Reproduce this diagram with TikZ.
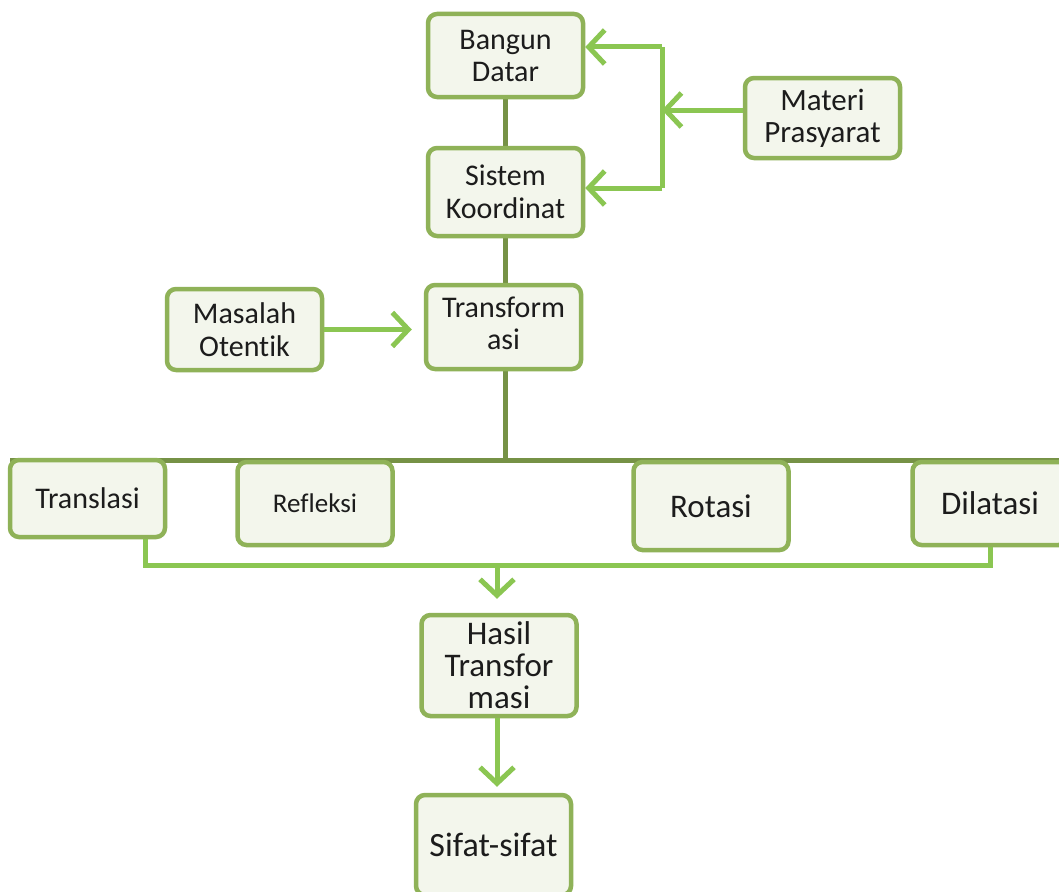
\documentclass[tikz,border=0pt]{standalone}
\usepackage{fontspec}
\setmainfont{Carlito}[Ligatures=NoCommon]
\usetikzlibrary{arrows.meta,calc}
\definecolor{boxc}{RGB}{143,178,88}
\definecolor{boxf}{RGB}{243,246,236}
\definecolor{arrc}{RGB}{139,198,82}
\definecolor{darkc}{RGB}{118,146,70}
\definecolor{txtc}{RGB}{28,28,28}
\tikzset{
  cbox/.style={draw=boxc, fill=boxf, line width=4.5pt, rounded corners=9pt,
    minimum width=155pt, align=center, text=txtc, inner sep=1pt},
  arr/.style={draw=arrc, line width=5pt, -{Straight Barb[length=16pt,width=34pt]}},
  gline/.style={draw=arrc, line width=5pt},
  dline/.style={draw=darkc, line width=5pt}
}
\begin{document}
\begin{tikzpicture}[x=1pt,y=-1pt]
\useasboundingbox (0,0) rectangle (1059,891);
\clip (0,0) rectangle (1059,891);
\fill[white] (0,0) rectangle (1059,891);
% connectors behind boxes
\coordinate (jt) at (505,460);
\draw[dline] (10,460) -- (1059,460);
\draw[dline] (505,97) -- (505,148);
\draw[dline] (505,236) -- (505,285);
\draw[dline] (505,369) -- (jt);
% boxes
\node[cbox, minimum height=83pt, font=\fontsize{30}{32}\selectfont] (bd) at (505.5,55.5) {Bangun\\Datar};
\node[cbox, minimum height=88pt, font=\fontsize{30}{33}\selectfont] (sk) at (505.5,192) {Sistem\\Koordinat};
\node[cbox, minimum height=80pt, font=\fontsize{31}{32}\selectfont] (mp) at (822.5,118) {Materi\\Prasyarat};
\node[cbox, minimum height=81pt, font=\fontsize{30}{33}\selectfont] (mo) at (244.5,329.5) {Masalah\\Otentik};
\node[cbox, minimum height=84pt, font=\fontsize{30}{33}\selectfont] (tr) at (503.5,327) {\raisebox{8pt}{\begin{tabular}{@{}c@{}}Transform\\[-1pt]asi\end{tabular}}};
\node[cbox, minimum height=77pt, font=\fontsize{30}{32}\selectfont] (tl) at (87.5,498.5) {Translasi};
\node[cbox, minimum height=83pt, font=\fontsize{27}{30}\selectfont] (rf) at (315,503.5) {Refleksi};
\node[cbox, minimum height=88pt, font=\fontsize{33}{36}\selectfont] (rt) at (711,506) {Rotasi};
\node[cbox, minimum height=83pt, font=\fontsize{33}{36}\selectfont] (dl) at (990,503.5) {Dilatasi};
\node[cbox, minimum height=101pt, font=\fontsize{33}{32}\selectfont] (ht) at (499,665.5) {Hasil\\Transfor\\masi};
\node[cbox, minimum height=100pt, font=\fontsize{34}{36}\selectfont] (sf) at (493.5,845) {Sifat-sifat};
% green connectors
\coordinate (jm) at (662,110);
\coordinate (jb) at (497,565);
\draw[arr] (mp.west |- jm) -- (jm);
\draw[gline] (662,47) -- (662,188);
\draw[arr] (662,47) -- (bd.east |- 0,47);
\draw[arr] (662,188) -- (sk.east |- 0,188);
\draw[arr, shorten >=12pt] (mo.east) -- (tr.west |- mo.east);
\draw[gline] (tl.south -| 145,0) |- (jb) -| (dl.south -| 990,0);
\draw[arr] (jb) -- ($(ht.north)+(-2,-14)$);
\draw[arr] (ht.south -| 497,0) -- ($(sf.north -| 497,0)+(0,-6)$);
\end{tikzpicture}
\end{document}
